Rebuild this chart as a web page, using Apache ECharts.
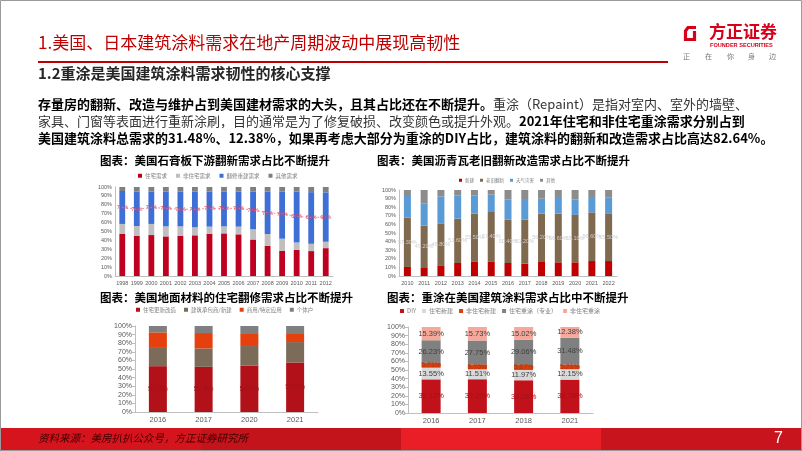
<!DOCTYPE html>
<html><head><meta charset="utf-8">
<script src="https://cdn.jsdelivr.net/npm/echarts/dist/echarts.min.js"></script>
<style>html,body{margin:0;padding:0;background:#fff;}#c{width:802px;height:451px;}</style>
</head><body><div id="c"></div>
<script>
// ---------- Chart 1: 美国石膏板下游需求结构 ----------
const c1Years = ['1998','1999','2000','2001','2002','2003','2004','2005','2006','2007','2008','2009','2010','2011','2012'];
const c1Residential = [47.2,45.3,46.0,44.5,45.3,45.7,47.5,47.9,46.8,41.0,34.0,28.3,29.4,28.0,31.3];
const c1NonResidential = [11.3,10.9,12.5,11.3,10.5,9.0,8.0,7.9,8.7,11.5,13.2,13.6,8.3,8.2,7.2];
const c1Renovation = [37.0,38.8,36.5,39.2,39.2,40.3,39.5,39.2,39.5,42.5,47.8,53.1,57.3,58.0,55.5];
const c1Other = [4.5,5.0,5.0,5.0,5.0,5.0,5.0,5.0,5.0,5.0,5.0,5.0,5.0,5.8,6.0];
const c1LabelLine = [77,75,77,76,75,75,76,76,76,74,71,70,67,66,66];

// ---------- Chart 2: 美国沥青瓦需求结构 ----------
const c2Years = ['2010','2011','2012','2013','2014','2015','2016','2017','2018','2019','2020','2021','2022'];
const c2New = [10.5,9.3,12.4,15.1,17.0,17.0,15.1,14.3,16.3,15.9,15.9,17.4,17.4];
const c2Reroof = [57.3,49.2,48.8,51.6,55.5,57.4,50.4,51.2,56.2,56.6,55.1,56.6,55.5];
const c2Weather = [26.4,26.0,31.4,27.1,21.3,20.2,23.3,24.0,17.4,19.4,17.8,17.9,18.1];
const c2Other = [5.8,15.5,7.4,6.2,6.2,5.4,11.2,10.5,10.1,8.1,11.2,8.1,9.0];

// ---------- Chart 3: 美国地面材料需求结构 ----------
const c3Years = ['2016','2017','2020','2021'];
const c3Remodel = [53.3,52.5,54.1,57.6];
const c3Builder = [22.2,21.4,22.6,23.7];
const c3Commercial = [17.1,17.9,14.0,9.4];
const c3Individual = [7.4,8.2,9.3,9.3];

// ---------- Chart 4: 美国建筑涂料需求结构 ----------
const c4Years = ['2016','2017','2018','2021'];
const c4DIY = [39.12,39.25,38.08,38.78];
const c4ResNew = [13.55,11.51,11.97,12.15];
const c4NonResNew = [5.71,5.76,5.87,5.21];
const c4ResRepaint = [26.23,27.75,29.06,31.48];
const c4NonResRepaint = [15.39,15.73,15.02,12.38];

const FONT = '"Noto Sans CJK SC","Noto Sans",sans-serif';
const chart = echarts.init(document.getElementById('c'), null, {renderer:'canvas'});

function xAx(grid, data, fs){
  return {type:'category', gridIndex:grid, data:data,
    axisLine:{lineStyle:{color:'#bfbfbf'}},
    axisTick:{show:false},
    axisLabel:{fontSize:fs, color:'#595959', interval:0, margin:4, fontFamily:'Arial'}};
}
function yAx(grid, fs, showTick){
  return {type:'value', gridIndex:grid, min:0, max:100, interval:10,
    axisLine:{show:true, lineStyle:{color:'#bfbfbf'}},
    axisTick:{show:showTick, length:3, lineStyle:{color:'#bfbfbf'}},
    splitLine:{show:false},
    axisLabel:{fontSize:fs, color:'#595959', margin:3, fontFamily:'Arial', formatter:v=>v+'%'}};
}
function bar(name, data, idx, color, stack, bw, label){
  return {type:'bar', name:name, data:data, xAxisIndex:idx, yAxisIndex:idx, stack:stack,
    barWidth:bw, itemStyle:{color:color}, label:label||{show:false}, animation:false};
}
const pct2 = p => p.value.toFixed(2)+'%';
function lbl(color, fs){ return {show:true, position:'inside', fontSize:fs, color:color, fontFamily:'Arial', formatter:pct2}; }

const legendBase = (left, top, data, fs) => ({left:left, top:top, data:data, icon:'rect',
  itemWidth:4, itemHeight:4, itemGap:6, padding:0, selectedMode:false,
  textStyle:{fontSize:fs, color:'#7f7f7f', fontFamily:FONT, padding:[0,0,0,-2]}});

const body1b = '存量房的翻新、改造与维护占到美国建材需求的大头，且其占比还在不断提升。';
const body1n = '重涂（Repaint）是指对室内、室外的墙壁、';
const body2n = '家具、门窗等表面进行重新涂刷，目的通常是为了修复破损、改变颜色或提升外观。';
const body2b = '2021年住宅和非住宅重涂需求分别占到';
const body3b = '美国建筑涂料总需求的31.48%、12.38%，如果再考虑大部分为重涂的DIY占比，建筑涂料的翻新和改造需求占比高达82.64%。';

const option = {
  backgroundColor:'#fff',
  animation:false,
  grid:[
    {left:115, top:187, width:218, height:89},
    {left:399, top:190, width:218, height:86},
    {left:135, top:326, width:183, height:86},
    {left:408, top:327, width:185, height:86}
  ],
  xAxis:[xAx(0,c1Years,5.5), xAx(1,c2Years,5.5), xAx(2,c3Years,7.5), xAx(3,c4Years,7.5)],
  yAxis:[yAx(0,5.5,false), yAx(1,5.5,false), yAx(2,7,true), yAx(3,7,true)],
  legend:[
    Object.assign(legendBase(138,173,['住宅需求','非住宅需求','翻修重建需求','其他需求'],5.5),{itemGap:9}),
    Object.assign(legendBase(459,178,['新建','老旧翻新','天气灾害','其他'],4.5),{itemWidth:3,itemHeight:3,itemGap:6}),
    Object.assign(legendBase(136,307,['住宅更新改造','建筑承包商/新建','商用/特定应用','个体户'],5.5),{itemGap:8}),
    Object.assign(legendBase(400,308,['DIY','住宅新建','非住宅新建','住宅重涂（专业）','非住宅重涂'],6),{itemGap:6})
  ],
  series:[
    bar('住宅需求', c1Residential, 0, '#c00020', 's1', '40%'),
    bar('非住宅需求', c1NonResidential, 0, '#bfbfbf', 's1', '40%'),
    bar('翻修重建需求', c1Renovation, 0, '#3d6fd6', 's1', '40%'),
    bar('其他需求', c1Other, 0, '#808080', 's1', '40%'),
    {type:'line', name:'翻新占比', data:c1LabelLine, xAxisIndex:0, yAxisIndex:0,
      symbol:'circle', symbolSize:0.1, showSymbol:true,
      lineStyle:{color:'#e87a95', width:1, type:[2,2], opacity:0.8}, z:5,
      label:{show:true, position:'top', distance:-3.5, fontSize:5.5, color:'#d8405f', fontFamily:'Arial', formatter:p=>p.value+'%'},
      labelLayout:{hideOverlap:false}},

    bar('新建', c2New, 1, '#c00000', 's2', 7),
    bar('老旧翻新', c2Reroof, 1, '#7f6a50', 's2', 7, lbl('#cfcfcf',5.5)),
    bar('天气灾害', c2Weather, 1, '#5b9bd5', 's2', 7),
    bar('其他', c2Other, 1, '#8c8c8c', 's2', 7),

    bar('住宅更新改造', c3Remodel, 2, '#b3111a', 's3', 18, {show:true, position:'inside', fontSize:7, color:'#a70f18', fontFamily:'Arial', formatter:p=>p.value.toFixed(1)+'%'}),
    bar('建筑承包商/新建', c3Builder, 2, '#7b6b58', 's3', 18),
    bar('商用/特定应用', c3Commercial, 2, '#e5400e', 's3', 18),
    bar('个体户', c3Individual, 2, '#7f7f7f', 's3', 18),

    bar('DIY', c4DIY, 3, '#c1121c', 's4', 19, lbl('#aa0e17',7.5)),
    bar('住宅新建', c4ResNew, 3, '#d9d9d9', 's4', 19, lbl('#404040',7.5)),
    bar('非住宅新建', c4NonResNew, 3, '#d9400e', 's4', 19, lbl('#b0360c',7)),
    bar('住宅重涂（专业）', c4ResRepaint, 3, '#808080', 's4', 19, lbl('#404040',7.5)),
    bar('非住宅重涂', c4NonResRepaint, 3, '#f6a99a', 's4', 19, lbl('#404040',7.5))
  ],
  graphic:[
    {type:'rect', shape:{x:0.5,y:0.5,width:801,height:450}, style:{fill:'none', stroke:'#9a9a9a', lineWidth:1}, z:100},
    {type:'text', left:38, top:34, style:{text:'1.美国、日本建筑涂料需求在地产周期波动中展现高韧性', font:'17px '+FONT, fill:'#c00000'}},
    {type:'line', shape:{x1:38,y1:62,x2:668,y2:62}, style:{stroke:'#c00000', lineWidth:2}},
    {type:'text', left:38, top:66, style:{text:'1.2重涂是美国建筑涂料需求韧性的核心支撑', font:'bold 15px '+FONT, fill:'#262626'}},
    {type:'polyline', shape:{points:[[696,27.5],[688,27.5],[685.5,31],[685.5,39.5],[694.5,39.5],[694.5,31]]}, style:{stroke:'#d7001b', lineWidth:3.2, fill:'none', lineJoin:'miter'}},
    {type:'text', left:709, top:23, style:{text:'方正证券', font:'bold 17px '+FONT, fill:'#d7001b'}},
    {type:'text', left:710, top:42, style:{text:'FOUNDER SECURITIES', font:'bold 5.6px Arial', fill:'#d7001b'}},
    {type:'text', left:683, top:53, style:{text:'正', font:'7px '+FONT, fill:'#777'}},
    {type:'text', left:705, top:53, style:{text:'在', font:'7px '+FONT, fill:'#777'}},
    {type:'text', left:727, top:53, style:{text:'你', font:'7px '+FONT, fill:'#777'}},
    {type:'text', left:748, top:53, style:{text:'身', font:'7px '+FONT, fill:'#777'}},
    {type:'text', left:769, top:53, style:{text:'边', font:'7px '+FONT, fill:'#777'}},
    {type:'text', left:38, top:98, style:{text:'{b|'+body1b+'}{n|'+body1n+'}', rich:{
      b:{font:'bold 13px '+FONT, fill:'#000'}, n:{font:'13px '+FONT, fill:'#333'}}}},
    {type:'text', left:38, top:115, style:{text:'{n|'+body2n+'}{b|'+body2b+'}', rich:{
      b:{font:'bold 13px '+FONT, fill:'#000'}, n:{font:'13px '+FONT, fill:'#333'}}}},
    {type:'text', left:38, top:132, style:{text:body3b, font:'bold 13px '+FONT, fill:'#000'}},
    {type:'text', left:100, top:155, style:{text:'图表：美国石膏板下游翻新需求占比不断提升', font:'bold 11.5px '+FONT, fill:'#000'}},
    {type:'text', left:377, top:155, style:{text:'图表：美国沥青瓦老旧翻新改造需求占比不断提升', font:'bold 11.5px '+FONT, fill:'#000'}},
    {type:'text', left:100, top:292, style:{text:'图表：美国地面材料的住宅翻修需求占比不断提升', font:'bold 11.5px '+FONT, fill:'#000'}},
    {type:'text', left:387, top:292, style:{text:'图表：重涂在美国建筑涂料需求占比中不断提升', font:'bold 11.5px '+FONT, fill:'#000'}},
    {type:'rect', shape:{x:0,y:428,width:201,height:23}, style:{fill:'#d6141d'}},
    {type:'rect', shape:{x:201,y:428,width:200,height:23}, style:{fill:'#c3131b'}},
    {type:'rect', shape:{x:401,y:428,width:200,height:23}, style:{fill:'#e91e27'}},
    {type:'rect', shape:{x:601,y:428,width:201,height:23}, style:{fill:'#c8151d'}},
    {type:'text', left:38, top:433, style:{text:'资料来源：美房扒扒公众号，方正证券研究所', font:'italic 10.5px '+FONT, fill:'#3a0000'}, z:101},
    {type:'text', left:774, top:431, style:{text:'7', font:'16px Arial', fill:'#fff'}, z:101}
  ]
};
chart.setOption(option);
</script>
</body></html>
